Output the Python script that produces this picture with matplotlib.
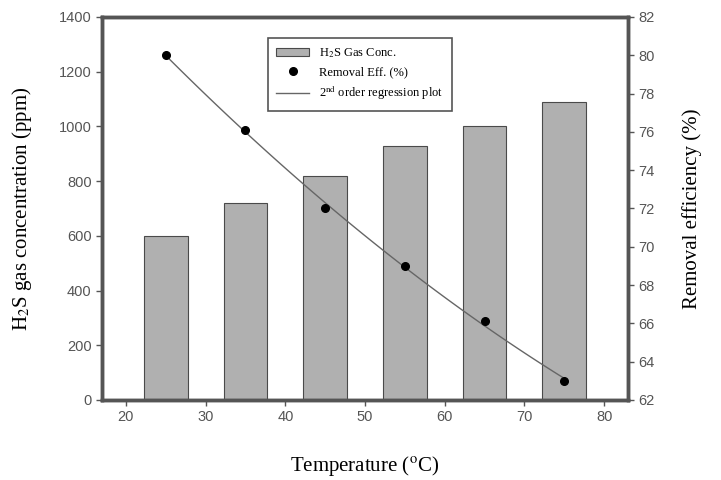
import numpy as np
import matplotlib.pyplot as plt
from matplotlib.ticker import MultipleLocator

# data
temperature = [25, 35, 45, 55, 65, 75]
h2s_conc = [600, 720, 820, 930, 1000, 1090]
removal_eff = [80.0, 76.1, 72.0, 69.0, 66.1, 63.0]

plt.rcParams['mathtext.fontset'] = 'stix'
grey = '#555555'
serif = ['Liberation Serif', 'DejaVu Serif']
sans = ['Liberation Sans', 'DejaVu Sans']

fig = plt.figure(figsize=(7.21, 4.8), dpi=100)
ax = fig.add_axes([0.1415, 0.1667, 0.7295, 0.798])
ax2 = ax.twinx()

b = ax.bar(temperature, h2s_conc, width=5.5, color='#b0b0b0', edgecolor='#4a4a4a',
           linewidth=0.8, label='H$_2$S Gas Conc.')

# 2nd order regression of removal efficiency
coef = np.polyfit(temperature, removal_eff, 2)
xs = np.linspace(min(temperature), max(temperature), 100)
ln, = ax2.plot(xs, np.polyval(coef, xs), color='#666666', lw=1.0,
               label='2$^{\\mathrm{nd}}$ order regression plot')
pts, = ax2.plot(temperature, removal_eff, 'o', color='black', ms=5.5,
                label='Removal Eff. (%)')

ax.set_xlim(17, 83)
ax.set_ylim(0, 1400)
ax2.set_ylim(62, 82)
ax.set_xticks(range(20, 81, 10))
ax.yaxis.set_major_locator(MultipleLocator(200))
ax2.yaxis.set_major_locator(MultipleLocator(2))

for a in (ax, ax2):
    for s in a.spines.values():
        s.set_color(grey)
        s.set_linewidth(2.5)
    a.tick_params(direction='out', length=4, width=1, color=grey,
                  labelcolor=grey, labelsize=10.5)
    for t in a.get_xticklabels() + a.get_yticklabels():
        t.set_family(sans)

ax.set_xlabel('Temperature ($^{\\mathrm{o}}$C)', fontsize=15, family=serif, labelpad=21)
ax.set_ylabel('H$_2$S gas concentration (ppm)', fontsize=15, family=serif, labelpad=18)
ax2.set_ylabel('Removal efficiency (%)', fontsize=15, family=serif, labelpad=20)

leg = ax2.legend([b, pts, ln], [b.get_label(), pts.get_label(), ln.get_label()],
                 loc='upper center', bbox_to_anchor=(0.49, 0.962),
                 prop={'family': serif, 'size': 9}, frameon=True, fancybox=False,
                 edgecolor=grey, handlelength=2.6, borderpad=0.7, labelspacing=0.45,
                 framealpha=1)
leg.get_frame().set_linewidth(1.2)

fig.savefig('out.png', dpi=100)
